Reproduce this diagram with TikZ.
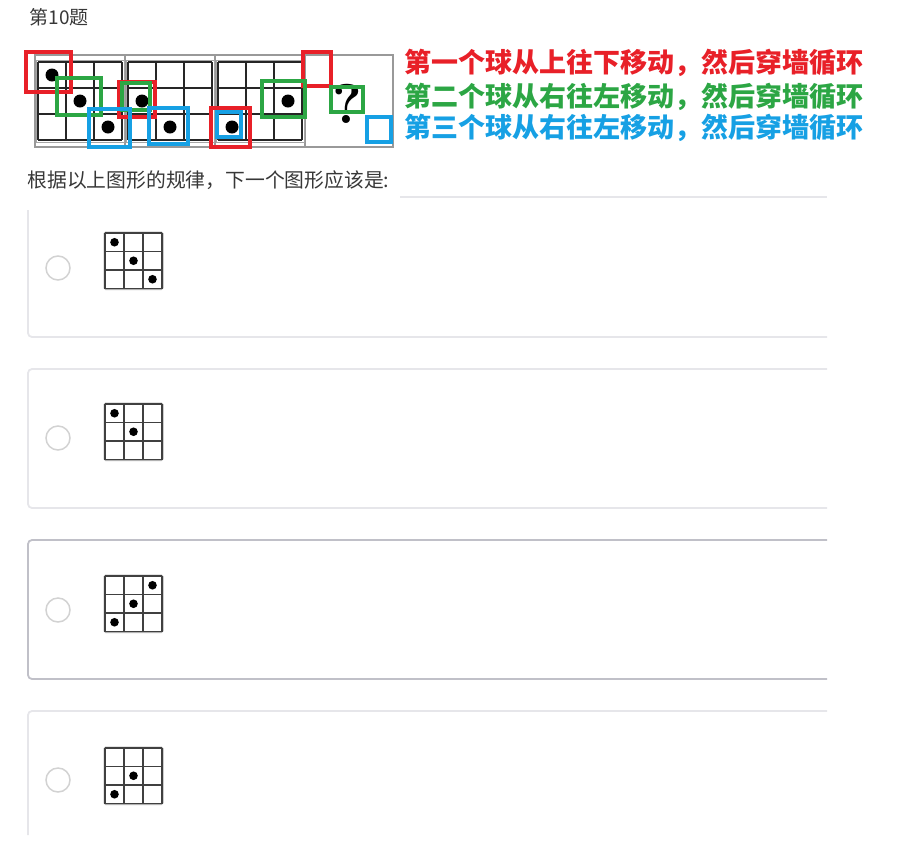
\documentclass[tikz,border=0pt]{standalone}
\usepackage{fontspec}
\newfontfamily\cjk{Noto Sans CJK SC}

\definecolor{markred}{RGB}{232,32,40}
\definecolor{markgreen}{RGB}{44,166,68}
\definecolor{markblue}{RGB}{22,160,228}
\definecolor{textgray}{RGB}{55,55,55}
\definecolor{cardgray}{RGB}{230,230,234}
\definecolor{cardsel}{RGB}{192,192,200}

\tikzset{
	frameline/.style = {draw = gray!80, line width = 1.6pt},
	seqline/.style = {draw = black!85, line width = 1.3pt},
	optline/.style = {draw = black!75, line width = 1.3pt},
	markbox/.style = {line width = 3.2pt},
	cardline/.style = {draw = cardgray, line width = 1.8pt, rounded corners = 4pt},
	radio/.style = {draw = gray!35, line width = 1.5pt},
	rule/.style = {anchor = west, font = \cjk\bfseries\fontsize{27}{27}\selectfont}
}

\begin{document}
\begin{tikzpicture}[x = 1pt, y = -1pt]

	% Definitions
	
	\def\CW{28}		% Cell width, sequence
	\def\CH{26}		% Cell height, sequence
	\def\OW{19}		% Cell width, options
	\def\OH{18.5}	% Cell height, options
	
	\useasboundingbox (0, 0) rectangle (899, 847);
	
	% Title and question
	
	\node [anchor = west, text = textgray, font = \cjk\fontsize{19}{19}\selectfont] (title) at (26, 17) {第10题};
	\node [anchor = west, text = textgray, font = \cjk\fontsize{19.8}{19.8}\selectfont] (question) at (24, 180) {根据以上图形的规律，下一个图形应该是:};
	\draw [cardgray, line width = 1.5pt] (400, 197) -- (827, 197);
	
	% Sequence frame
	
	\draw [frameline] (35, 55) rectangle (393, 147);
	\foreach \x in {125, 215, 305}
		\draw [frameline] (\x, 55) -- (\x, 147);
	
	% Sequence grids
	
	\foreach \g in {0, 1, 2} {
		\draw [gray!70, line width = 1pt] ({36 + 90 * \g}, 60) rectangle ++(88, 82);
		\foreach \i in {0, 1, 2, 3} {
			\draw [seqline] ({38 + 90 * \g + \i * \CW}, 62) -- ++(0, 3 * \CH);
			\draw [seqline] ({38 + 90 * \g}, {62 + \i * \CH}) -- ++(3 * \CW, 0);
		}
	}
	
	% Balls in the sequence
	
	\foreach \g/\c/\r in {0/0/0, 0/1/1, 0/2/2, 1/0/1, 1/1/2, 2/0/2, 2/2/1}
		\fill ({38 + 90 * \g + (\c + 0.5) * \CW}, {62 + (\r + 0.5) * \CH}) circle (6.5pt);
	
	\node [font = \bfseries\fontsize{56}{56}\selectfont] (qmark) at (347, 104) {?};
	
	% Marks of the three balls
	
	\foreach \a/\b/\c/\d in {26/52/71/92, 119/82/155/117, 211/108/250/147, 303/52/331/86}
		\draw [markbox, markred] (\a, \b) rectangle (\c, \d);
	\foreach \a/\b/\c/\d in {57/78/101/115, 122/83/150/110, 262/81/305/117, 331/87/363/112}
		\draw [markbox, markgreen] (\a, \b) rectangle (\c, \d);
	\foreach \a/\b/\c/\d in {89/109/130/147, 149/108/188/144, 217/112/241/137, 367/117/391/142}
		\draw [markbox, markblue] (\a, \b) rectangle (\c, \d);
	
	% Rules
	
	\node [rule, text = markred] (rule1) at (401, 63) {第一个球从上往下移动，然后穿墙循环};
	\node [rule, text = markgreen] (rule2) at (401, 97) {第二个球从右往左移动，然后穿墙循环};
	\node [rule, text = markblue] (rule3) at (401, 128) {第三个球从右往左移动，然后穿墙循环};
	
	% Option cards
	
	\draw [cardline] (28, 210) -- (28, 337) -- (827, 337);
	\draw [cardline] (827, 369) -- (28, 369) -- (28, 508) -- (827, 508);
	\draw [cardline, draw = cardsel] (827, 540) -- (28, 540) -- (28, 679) -- (827, 679);
	\draw [cardline] (827, 711) -- (28, 711) -- (28, 835);
	
	\foreach \y in {268, 438, 610, 780}
		\draw [radio] (58, \y) circle (12pt);
	
	% Option grids
	
	\foreach \top in {233, 404, 576, 748} {
		\draw [gray!60, line width = 1pt, rounded corners = 1.5pt] (104, {\top - 1}) rectangle ++(59, {3 * \OH + 2});
		\foreach \i in {0, 1, 2, 3} {
			\draw [optline] ({105 + \i * \OW}, \top) -- ++(0, 3 * \OH);
			\draw [optline] (105, {\top + \i * \OH}) -- ++(3 * \OW, 0);
		}
	}
	
	\foreach \top/\c/\r in {233/0/0, 233/1/1, 233/2/2, 404/0/0, 404/1/1, 576/2/0, 576/1/1, 576/0/2, 748/1/1, 748/0/2}
		\fill ({105 + (\c + 0.5) * \OW}, {\top + (\r + 0.5) * \OH}) circle (4.3pt);

\end{tikzpicture}
\end{document}
